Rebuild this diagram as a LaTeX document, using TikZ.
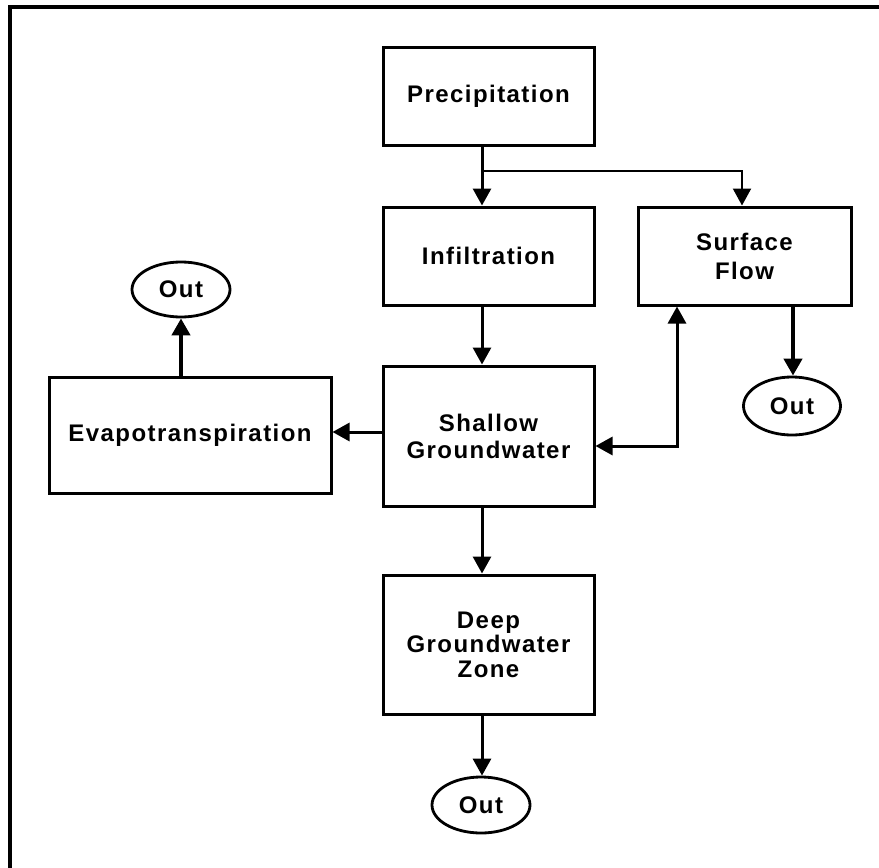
\documentclass[tikz,border=0pt]{standalone}
\usepackage{fontspec}
\setmainfont{Liberation Sans}[LetterSpace=6]
\usetikzlibrary{arrows.meta,shapes.geometric}
\tikzset{
  boxnode/.style={draw,line width=3pt,inner sep=0pt,align=center,
    font=\fontsize{24}{27}\selectfont\bfseries},
  outnode/.style={draw,ellipse,line width=2.8pt,inner sep=0pt,
    font=\fontsize{24}{27}\selectfont\bfseries},
  arr/.style={line width=3pt,-{Triangle[width=18pt,length=17pt]}},
  thinarr/.style={line width=2.2pt,-{Triangle[width=18pt,length=17pt]}},
  thickarr/.style={line width=4.2pt,-{Triangle[width=18pt,length=17pt]}},
  dblarr/.style={line width=3pt,{Triangle[width=18pt,length=17pt]}-{Triangle[width=18pt,length=17pt]}},
  framestyle/.style={line width=3.2pt}
}
\begin{document}
\begin{tikzpicture}[x=1pt,y=-1pt]
\useasboundingbox (0,0) rectangle (879,868);
\draw[framestyle] (10,868) -- (10,7) -- (879,7);

\node[boxnode,minimum width=211pt,minimum height=98pt] (pre) at (488.5,96) {Precipitation};
\node[boxnode,minimum width=211pt,minimum height=98pt] (inf) at (488.5,256) {Infiltration};
\node[boxnode,minimum width=213pt,minimum height=98pt,font=\fontsize{24}{29}\selectfont\bfseries] (sur) at (744.5,256) {Surface\\Flow};
\node[boxnode,minimum width=211pt,minimum height=140pt] (sha) at (488.5,436) {Shallow\\Groundwater};
\node[boxnode,minimum width=282pt,minimum height=116pt] (eva) at (190,435) {Evapotranspiration};
\node[boxnode,minimum width=211pt,minimum height=139pt,font=\fontsize{24}{24.5}\selectfont\bfseries] (dee) at (488.5,644.5) {Deep\\Groundwater\\Zone};
\node[outnode,minimum width=98pt,minimum height=55pt] (o1) at (181,289.5) {Out};
\node[outnode,minimum width=97pt,minimum height=58pt] (o2) at (792,406) {Out};
\node[outnode,minimum width=98pt,minimum height=56pt] (o3) at (481,805) {Out};

\coordinate (col) at (482,171);
\coordinate (branch) at (742,171);
\coordinate (evx) at (181,0);
\coordinate (sfx) at (793,0);
\coordinate (up) at (677,446);
\coordinate (lft) at (0,432);

\draw[arr] (pre.south -| col) -- (inf.north -| col);
\draw[thinarr] (col) -| (sur.north -| branch);
\draw[arr] (inf.south -| col) -- (sha.north -| col);
\draw[arr] (sha.south -| col) -- (dee.north -| col);
\draw[arr] (dee.south -| col) -- (o3.north -| col);
\draw[thickarr] (eva.north -| evx) -- (o1.south -| evx);
\draw[thickarr] (sur.south -| sfx) -- (o2.north -| sfx);
\draw[arr] (sha.west |- lft) -- (eva.east |- lft);
\draw[dblarr] (sur.south -| up) -- (up) -- (sha.east |- up);
\end{tikzpicture}
\end{document}
